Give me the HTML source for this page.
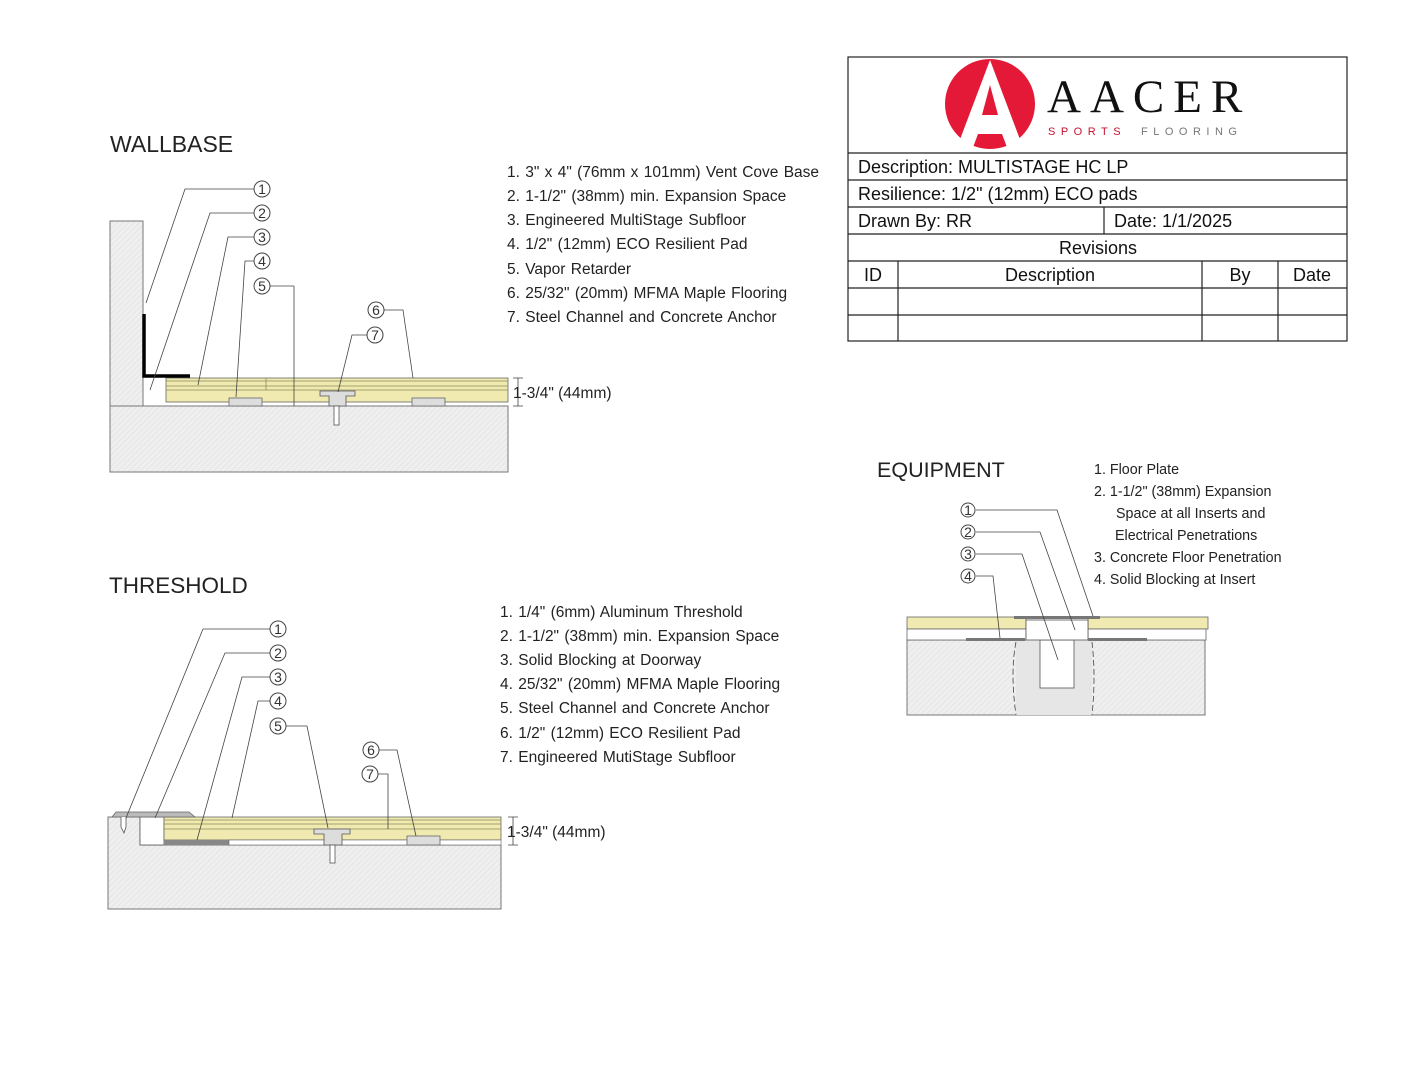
<!DOCTYPE html>
<html><head><meta charset="utf-8"><style>
html,body{margin:0;padding:0;background:#fff;width:1408px;height:1088px;overflow:hidden}
svg{display:block}
.t{font-family:"Liberation Sans",sans-serif;fill:#222}
.c{font-family:"Liberation Sans",sans-serif;fill:#333;font-size:14px;text-anchor:middle}
.ld{stroke:#444;stroke-width:0.8;fill:none}
.cb{font-family:"Liberation Sans","DejaVu Sans",sans-serif;fill:#111;font-size:18px}
</style></head><body>
<svg width="1408" height="1088" viewBox="0 0 1408 1088" xmlns="http://www.w3.org/2000/svg">
<defs>
<pattern id="con" width="4" height="4" patternUnits="userSpaceOnUse" patternTransform="rotate(45)">
<rect width="4" height="4" fill="#efefef"/><line x1="0" y1="0" x2="0" y2="4" stroke="#dcdcdc" stroke-width="1"/></pattern>
</defs>

<!-- WALLBASE -->
<text x="110" y="152" class="t" font-size="23">WALLBASE</text>
<rect x="110" y="221" width="33" height="185" fill="url(#con)" stroke="#777" stroke-width="1"/>
<rect x="110" y="406" width="398" height="66" fill="url(#con)" stroke="#777" stroke-width="1"/>
<rect x="166" y="378" width="342" height="24" fill="#f0eab0" stroke="#666" stroke-width="0.8"/>
<line x1="166" y1="381" x2="508" y2="381" stroke="#8a8a5a" stroke-width="0.8"/>
<line x1="166" y1="386" x2="508" y2="386" stroke="#8a8a5a" stroke-width="0.8"/>
<line x1="166" y1="390" x2="508" y2="390" stroke="#8a8a5a" stroke-width="0.8"/>
<line x1="266" y1="378" x2="266" y2="390" stroke="#8a8a5a" stroke-width="0.8"/>
<rect x="229" y="398" width="33" height="8" fill="#ddd" stroke="#666" stroke-width="0.8"/>
<rect x="412" y="398" width="33" height="8" fill="#ddd" stroke="#666" stroke-width="0.8"/>
<path d="M320 391h35v5h-9v10h-17v-10h-9z" fill="#ddd" stroke="#555" stroke-width="0.8"/>
<rect x="334" y="406" width="5" height="19" fill="#fff" stroke="#555" stroke-width="0.8"/>
<path d="M144 314v62h46" fill="none" stroke="#000" stroke-width="3.5"/>
<line x1="294" y1="286" x2="294" y2="406" class="ld"/>
<path class="ld" d="M254 189H185L146 303"/>
<path class="ld" d="M254 213H210L150 390"/>
<path class="ld" d="M254 237H228L198 385"/>
<path class="ld" d="M254 261H245L236 397"/>
<path class="ld" d="M270 286H294"/>
<path class="ld" d="M384 310H403L413 378"/>
<path class="ld" d="M367 335H352L338 392"/>
<g class="c"><circle cx="262" cy="189" r="8" fill="#fff" stroke="#444"/><text x="262" y="194">1</text>
<circle cx="262" cy="213" r="8" fill="#fff" stroke="#444"/><text x="262" y="218">2</text>
<circle cx="262" cy="237" r="8" fill="#fff" stroke="#444"/><text x="262" y="242">3</text>
<circle cx="262" cy="261" r="8" fill="#fff" stroke="#444"/><text x="262" y="266">4</text>
<circle cx="262" cy="286" r="8" fill="#fff" stroke="#444"/><text x="262" y="291">5</text>
<circle cx="376" cy="310" r="8" fill="#fff" stroke="#444"/><text x="376" y="315">6</text>
<circle cx="375" cy="335" r="8" fill="#fff" stroke="#444"/><text x="375" y="340">7</text></g>
<path class="ld" d="M513 378h10M518 378v28M513 406h10"/>
<text x="513" y="398" class="t" font-size="15.5">1-3/4" (44mm)</text>
<g class="t" font-size="15.5" word-spacing="1">
<text x="507" y="177">1.  3" x 4" (76mm x 101mm) Vent Cove Base</text>
<text x="507" y="201">2.  1-1/2" (38mm) min. Expansion Space</text>
<text x="507" y="225">3.  Engineered MultiStage Subfloor</text>
<text x="507" y="249">4.  1/2" (12mm) ECO Resilient Pad</text>
<text x="507" y="274">5.  Vapor Retarder</text>
<text x="507" y="298">6.  25/32" (20mm) MFMA Maple Flooring</text>
<text x="507" y="322">7.  Steel Channel and Concrete Anchor</text>
</g>

<!-- THRESHOLD -->
<text x="109" y="593" class="t" font-size="22.5">THRESHOLD</text>
<path d="M108 817h32v28h361v64H108z" fill="url(#con)" stroke="#777" stroke-width="1"/>
<rect x="140" y="817" width="24" height="28" fill="#fff" stroke="#555" stroke-width="0.8"/>
<rect x="164" y="817" width="337" height="23" fill="#f0eab0" stroke="#666" stroke-width="0.8"/>
<line x1="164" y1="820" x2="501" y2="820" stroke="#8a8a5a" stroke-width="0.8"/>
<line x1="164" y1="824" x2="501" y2="824" stroke="#8a8a5a" stroke-width="0.8"/>
<line x1="164" y1="829" x2="501" y2="829" stroke="#8a8a5a" stroke-width="0.8"/>
<rect x="164" y="840" width="65" height="5" fill="#888"/>
<rect x="229" y="840" width="272" height="5" fill="#fff" stroke="#666" stroke-width="0.6"/>
<rect x="407" y="836" width="33" height="9" fill="#ddd" stroke="#666" stroke-width="0.8"/>
<path d="M314 829h36v5h-8v11h-18v-11h-10z" fill="#ddd" stroke="#555" stroke-width="0.8"/>
<rect x="330" y="845" width="5" height="18" fill="#fff" stroke="#555" stroke-width="0.8"/>
<path d="M112 817l4-5h73l6 5z" fill="#bbb" stroke="#666" stroke-width="0.8"/>
<path d="M121 817v10l3 6 2-6v-10" fill="#fff" stroke="#555" stroke-width="0.8"/>
<path class="ld" d="M270 629H203L126 818"/>
<path class="ld" d="M270 653H225L155 818"/>
<path class="ld" d="M270 677H242L197 840"/>
<path class="ld" d="M270 701H258L232 818"/>
<path class="ld" d="M286 726H307L328 828"/>
<path class="ld" d="M379 750H397L416 836"/>
<path class="ld" d="M378 774H388V829"/>
<g class="c"><circle cx="278" cy="629" r="8" fill="#fff" stroke="#444"/><text x="278" y="634">1</text>
<circle cx="278" cy="653" r="8" fill="#fff" stroke="#444"/><text x="278" y="658">2</text>
<circle cx="278" cy="677" r="8" fill="#fff" stroke="#444"/><text x="278" y="682">3</text>
<circle cx="278" cy="701" r="8" fill="#fff" stroke="#444"/><text x="278" y="706">4</text>
<circle cx="278" cy="726" r="8" fill="#fff" stroke="#444"/><text x="278" y="731">5</text>
<circle cx="371" cy="750" r="8" fill="#fff" stroke="#444"/><text x="371" y="755">6</text>
<circle cx="370" cy="774" r="8" fill="#fff" stroke="#444"/><text x="370" y="779">7</text></g>
<path class="ld" d="M508 817h10M513 817v28M508 845h10"/>
<text x="507" y="837" class="t" font-size="15.5">1-3/4" (44mm)</text>
<g class="t" font-size="15.5" word-spacing="1">
<text x="500" y="617">1.  1/4" (6mm) Aluminum Threshold</text>
<text x="500" y="641">2.  1-1/2" (38mm) min. Expansion Space</text>
<text x="500" y="665">3.  Solid Blocking at Doorway</text>
<text x="500" y="689">4.  25/32" (20mm) MFMA Maple Flooring</text>
<text x="500" y="713">5.  Steel Channel and Concrete Anchor</text>
<text x="500" y="738">6.  1/2" (12mm) ECO Resilient Pad</text>
<text x="500" y="762">7.  Engineered MutiStage Subfloor</text>
</g>

<!-- EQUIPMENT -->
<text x="877" y="477" class="t" font-size="21.5">EQUIPMENT</text>
<rect x="907" y="640" width="298" height="75" fill="url(#con)" stroke="#777" stroke-width="1"/>
<rect x="1016" y="640" width="76" height="75" fill="#e6e6e6"/>
<rect x="1040" y="640" width="34" height="48" fill="#fff" stroke="#555" stroke-width="0.8"/>
<rect x="907" y="617" width="119" height="12" fill="#f0eab0" stroke="#666" stroke-width="0.8"/>
<rect x="1088" y="617" width="120" height="12" fill="#f0eab0" stroke="#666" stroke-width="0.8"/>
<rect x="907" y="629" width="119" height="11" fill="#fff" stroke="#666" stroke-width="0.8"/>
<rect x="1088" y="629" width="118" height="11" fill="#fff" stroke="#666" stroke-width="0.8"/>
<rect x="1026" y="620" width="62" height="20" fill="#fff" stroke="#555" stroke-width="0.8"/>
<rect x="1014" y="616" width="86" height="3" fill="#777"/>
<rect x="966" y="638" width="59" height="3" fill="#777"/>
<rect x="1088" y="638" width="59" height="3" fill="#777"/>
<path class="ld" d="M1016 642q-6 30 0 73M1092 642q4 35 0 73" stroke-dasharray="6 3"/>
<path class="ld" d="M976 510H1057L1093 616"/>
<path class="ld" d="M976 532H1040L1075 630"/>
<path class="ld" d="M976 554H1022L1058 660"/>
<path class="ld" d="M976 576H993L1000 638"/>
<g class="c" font-size="13"><circle cx="968" cy="510" r="7" fill="#fff" stroke="#444"/><text x="968" y="515">1</text>
<circle cx="968" cy="532" r="7" fill="#fff" stroke="#444"/><text x="968" y="537">2</text>
<circle cx="968" cy="554" r="7" fill="#fff" stroke="#444"/><text x="968" y="559">3</text>
<circle cx="968" cy="576" r="7" fill="#fff" stroke="#444"/><text x="968" y="581">4</text></g>
<g class="t" font-size="14.3">
<text x="1094" y="474">1.  Floor Plate</text>
<text x="1094" y="496">2. 1-1/2" (38mm) Expansion</text>
<text x="1116" y="518">Space at all Inserts and</text>
<text x="1115" y="540">Electrical Penetrations</text>
<text x="1094" y="562">3.  Concrete Floor Penetration</text>
<text x="1094" y="584">4.  Solid Blocking at Insert</text>
</g>

<!-- TITLE BLOCK -->
<g stroke="#222" stroke-width="1.2" fill="none">
<rect x="848" y="57" width="499" height="284"/>
<line x1="848" y1="153" x2="1347" y2="153"/>
<line x1="848" y1="180" x2="1347" y2="180"/>
<line x1="848" y1="207" x2="1347" y2="207"/>
<line x1="848" y1="234" x2="1347" y2="234"/>
<line x1="848" y1="261" x2="1347" y2="261"/>
<line x1="848" y1="288" x2="1347" y2="288"/>
<line x1="848" y1="315" x2="1347" y2="315"/>
<line x1="1104" y1="207" x2="1104" y2="234"/>
<line x1="898" y1="261" x2="898" y2="341"/>
<line x1="1202" y1="261" x2="1202" y2="341"/>
<line x1="1278" y1="261" x2="1278" y2="341"/>
</g>
<circle cx="990" cy="104" r="45" fill="#e31937"/>
<path d="M990 60L956 150h16l6-16h24l6 16h16L990 60z" fill="#fff"/>
<path d="M990 85l-8 30h16z" fill="#e31937"/>
<text x="1047" y="112" font-family="Liberation Serif,serif" font-size="47" fill="#111" letter-spacing="9">AACER</text>
<text x="1048" y="135" font-family="Liberation Sans,sans-serif" font-size="11" fill="#c8102e" letter-spacing="5.5">SPORTS</text>
<text x="1141" y="135" font-family="Liberation Sans,sans-serif" font-size="11" fill="#777" letter-spacing="5.5">FLOORING</text>
<g class="cb">
<text x="858" y="173">Description: MULTISTAGE HC LP</text>
<text x="858" y="200">Resilience: 1/2" (12mm) ECO pads</text>
<text x="858" y="227">Drawn By: RR</text>
<text x="1114" y="227">Date: 1/1/2025</text>
<text x="1098" y="254" text-anchor="middle">Revisions</text>
<text x="873" y="281" text-anchor="middle">ID</text>
<text x="1050" y="281" text-anchor="middle">Description</text>
<text x="1240" y="281" text-anchor="middle">By</text>
<text x="1312" y="281" text-anchor="middle">Date</text>
</g>
</svg>
</body></html>
